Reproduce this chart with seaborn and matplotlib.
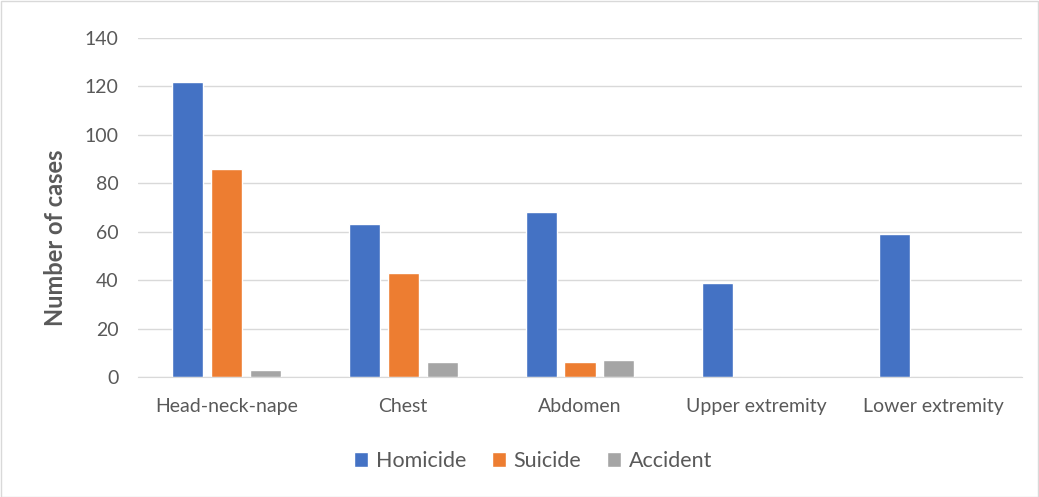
import pandas as pd
import matplotlib.pyplot as plt
import seaborn as sns
from matplotlib.patches import Rectangle

regions = ["Head-neck-nape", "Chest", "Abdomen", "Upper extremity", "Lower extremity"]
homicide = [122, 63, 68, 39, 59]
suicide = [86, 43, 6, 0, 0]
accident = [3, 6, 7, 0, 0]
yticks = [0, 20, 40, 60, 80, 100, 120, 140]

COLORS = {"Homicide": "#4472C4", "Suicide": "#ED7D31", "Accident": "#A5A5A5"}

df = pd.DataFrame({"Region": regions, "Homicide": homicide,
                   "Suicide": suicide, "Accident": accident})
long_df = df.melt(id_vars="Region", var_name="Manner", value_name="Cases")

sns.set_style("white")
plt.rcParams["font.family"] = ["Lato", "DejaVu Sans"]

fig = plt.figure(figsize=(10.39, 4.97), dpi=100)
ax = fig.add_axes([138 / 1039, 1 - 377 / 497, (1022 - 138) / 1039, (377 - 38) / 497])

sns.barplot(data=long_df, x="Region", y="Cases", hue="Manner",
            palette=COLORS, width=0.66, gap=0.2, ax=ax, saturation=1)

ax.set_ylim(0, 140)
ax.set_yticks(yticks)
ax.set_xlim(-0.5, len(regions) - 0.5)
ax.yaxis.grid(True, color="#D9D9D9", linewidth=1)
ax.set_axisbelow(True)
for side in ["top", "right", "left"]:
    ax.spines[side].set_visible(False)
ax.spines["bottom"].set_color("#D9D9D9")
ax.tick_params(axis="both", length=0, labelsize=14, colors="#595959")
ax.tick_params(axis="x", pad=15)
ax.tick_params(axis="y", pad=14)
ax.set_xlabel("")
ax.set_ylabel("Number of cases", fontsize=17, fontweight="bold", color="#595959")
ax.yaxis.set_label_coords(-0.08, 0.41)

handles, labels = ax.get_legend_handles_labels()
ax.get_legend().remove()
fig.legend(handles, labels, loc="center", bbox_to_anchor=(533 / 1039, 1 - 461 / 497),
           ncol=3, frameon=False, fontsize=15.5, handlelength=0.65, handleheight=0.65,
           columnspacing=1.2, handletextpad=0.35, labelcolor="#595959")

fig.patches.append(Rectangle((0.5 / 1039, 0.5 / 497), 1 - 1.5 / 1039, 1 - 1.5 / 497,
                             transform=fig.transFigure, fill=False,
                             edgecolor="#D9D9D9", linewidth=1))

fig.savefig("out.png", dpi=100)
